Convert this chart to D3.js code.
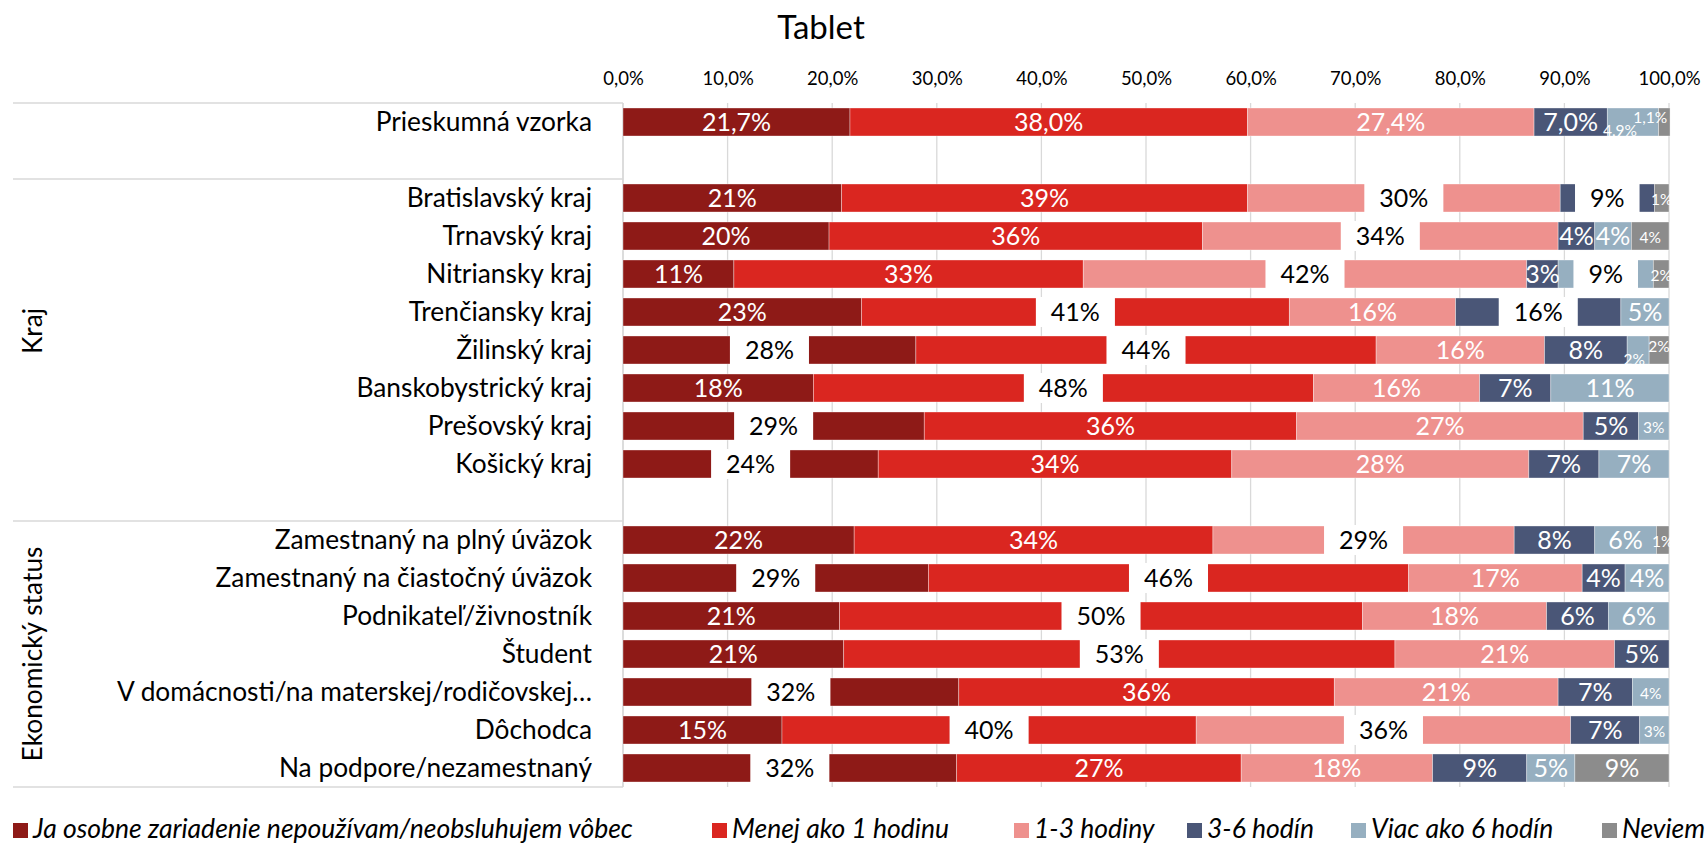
<!DOCTYPE html>
<html>
<head>
<meta charset="utf-8">
<script src="https://cdn.jsdelivr.net/npm/d3@7"></script>
<style>
  body { margin: 0; background: #fff; }
  svg text { font-family: Lato, "Open Sans", sans-serif; }
</style>
</head>
<body>
<div id="chart"></div>
<script>
// rows of the chart, empty strings are the spacer rows
var categories = [
  'Prieskumná vzorka', '',
  'Bratislavský kraj', 'Trnavský kraj', 'Nitriansky kraj', 'Trenčiansky kraj',
  'Žilinský kraj', 'Banskobystrický kraj', 'Prešovský kraj', 'Košický kraj', '',
  'Zamestnaný na plný úväzok', 'Zamestnaný na čiastočný úväzok', 'Podnikateľ/živnostník',
  'Študent', 'V domácnosti/na materskej/rodičovskej…', 'Dôchodca', 'Na podpore/nezamestnaný'
];

var seriesNames = [
  'Ja osobne zariadenie nepoužívam/neobsluhujem vôbec',
  'Menej ako 1 hodinu', '1-3 hodiny', '3-6 hodín', 'Viac ako 6 hodín', 'Neviem'
];

// shares in %, one array per series
var nepouzivam = [21.7, null, 20.9, 19.7, 10.6, 22.8, 28.0, 18.2, 28.8, 24.4, null, 22.1, 29.2, 20.7, 21.1, 32.1, 15.2, 31.9];
var menej1     = [38.0, null, 38.8, 35.7, 33.4, 40.9, 44.0, 47.8, 35.6, 33.8, null, 34.3, 45.9, 50.0, 52.7, 35.9, 39.6, 27.2];
var hodiny13   = [27.4, null, 29.9, 34.0, 42.4, 15.9, 16.1, 15.9, 27.4, 28.4, null, 28.8, 16.6, 17.6, 21.0, 21.4, 35.8, 18.3];
var hodin36    = [7.0,  null, 9.0,  3.5,  3.0,  15.8, 7.9,  6.8,  5.3,  6.7,  null, 7.7,  4.1,  5.9,  5.2,  7.1,  6.6,  9.0];
var viac6      = [4.9,  null, 0,    3.5,  9.1,  4.6,  2.1,  11.3, 2.9,  6.7,  null, 5.9,  4.2,  5.8,  0,    3.5,  2.8,  4.6];
var neviem     = [1.1,  null, 1.4,  3.6,  1.5,  0,    1.9,  0,    0,    0,    null, 1.2,  0,    0,    0,    0,    0,    9.0];

var xTicks = [0, 10, 20, 30, 40, 50, 60, 70, 80, 90, 100];

var groups = [
  { name: 'Kraj', from: 2, to: 9 },
  { name: 'Ekonomický status', from: 11, to: 17 }
];

var colors = ['#8E1A17', '#DA2620', '#EE918E', '#4A5677', '#96AFC0', '#8C8C8C'];

// label styling taken over from the original (row|series)
var boxed = ['2|2', '2|3', '3|2', '4|2', '4|4', '5|1', '5|3', '6|0', '6|1', '7|1', '8|0', '9|0',
             '11|2', '12|0', '12|1', '13|1', '14|1', '15|0', '16|1', '16|2', '17|0'];
var small = ['0|4', '0|5', '2|5', '3|5', '4|5', '6|4', '6|5', '8|4', '11|5', '15|4', '16|4'];
var nudge = { '0|4': [-13, 7], '0|5': [-14, -6], '6|4': [-4, 8], '6|5': [0, -5] };

var width = 1706, height = 844;

var svg = d3.select('#chart')
  .append('svg')
    .attr('width', width)
    .attr('height', height);

var allSeries = [nepouzivam, menej1, hodiny13, hodin36, viac6, neviem];
var rows = categories.map(function(c, i) {
  var r = { index: i, name: c };
  seriesNames.forEach(function(s, j) { r[s] = allSeries[j][i] || 0; });
  r.empty = nepouzivam[i] === null;
  return r;
});

var stacked = d3.stack().keys(seriesNames)(rows);

var x = d3.scaleLinear().domain([0, 100]).range([623, 1669]);
var y = d3.scaleBand()
  .domain(d3.range(categories.length))
  .range([103, 787])
  .paddingInner(0.263)
  .paddingOuter(0.1315);
var gap = (y.step() - y.bandwidth()) / 2;

// title
svg.append('text')
  .attr('x', 821)
  .attr('y', 39)
  .attr('text-anchor', 'middle')
  .attr('font-size', 33)
  .attr('fill', '#000')
  .text('Tablet');

// gridlines
svg.append('g')
  .selectAll('line')
  .data(xTicks)
  .enter()
    .append('line')
      .attr('x1', function(d) { return x(d); })
      .attr('x2', function(d) { return x(d); })
      .attr('y1', 103)
      .attr('y2', 787)
      .attr('stroke', '#d9d9d9')
      .attr('stroke-width', 1.3);

// top axis labels
svg.append('g')
  .attr('transform', 'translate(0,82)')
  .call(d3.axisTop(x).tickValues(xTicks).tickSize(0)
    .tickFormat(function(d) { return d.toFixed(1).replace('.', ',') + '%'; }))
  .call(function(g) { g.select('.domain').remove(); })
  .selectAll('text')
    .attr('font-size', 18.5)
    .attr('fill', '#000')
    .attr('dy', '0.35em')
    .attr('font-family', 'Lato, sans-serif');

// left category box lines
var sep = [103, y(2) - gap, y(11) - gap, 787];
svg.append('g')
  .selectAll('line')
  .data(sep)
  .enter()
    .append('line')
      .attr('x1', 13)
      .attr('x2', 623)
      .attr('y1', function(d) { return d; })
      .attr('y2', function(d) { return d; })
      .attr('stroke', '#d9d9d9')
      .attr('stroke-width', 1.5);

svg.append('line')
  .attr('x1', 623).attr('x2', 623)
  .attr('y1', 103).attr('y2', 787)
  .attr('stroke', '#d9d9d9')
  .attr('stroke-width', 1.5);

// category labels
svg.append('g')
  .selectAll('text')
  .data(rows.filter(function(r) { return r.name; }))
  .enter()
    .append('text')
      .attr('x', 592)
      .attr('y', function(d) { return y(d.index) + y.bandwidth() / 2; })
      .attr('dy', '0.35em')
      .attr('text-anchor', 'end')
      .attr('font-size', 26.3)
      .attr('fill', '#000')
      .text(function(d) { return d.name; });

// group labels, centred between the separator lines
svg.append('g')
  .selectAll('text')
  .data(groups)
  .enter()
    .append('text')
      .attr('transform', function(d) {
        var cy = (y(d.from) - gap + y(d.to) + y.bandwidth() + gap) / 2;
        return 'translate(33,' + cy + ') rotate(-90)';
      })
      .attr('dy', '0.35em')
      .attr('text-anchor', 'middle')
      .attr('font-size', 26.3)
      .attr('fill', '#000')
      .text(function(d) { return d.name; });

// bars
var layer = svg.append('g')
  .selectAll('g')
  .data(stacked)
  .enter()
    .append('g')
      .attr('fill', function(d, i) { return colors[i]; });

layer.selectAll('rect')
  .data(function(d) { return d.filter(function(p) { return !p.data.empty && p[1] > p[0]; }); })
  .enter()
    .append('rect')
      .attr('x', function(d) { return x(d[0]); })
      .attr('y', function(d) { return y(d.data.index); })
      .attr('width', function(d) { return x(d[1]) - x(d[0]); })
      .attr('height', y.bandwidth())
      .attr('stroke', '#fff')
      .attr('stroke-opacity', 0.5)
      .attr('stroke-width', 0.7);

// data labels
var labels = [];
stacked.forEach(function(s, j) {
  s.forEach(function(p) {
    if (p.data.empty || p[1] - p[0] <= 0) return;
    labels.push({ row: p.data.index, series: j, v0: p[0], v1: p[1], value: p[1] - p[0] });
  });
});

var labelLayer = svg.append('g');
labels.forEach(function(d) {
  var key = d.row + '|' + d.series;
  var off = nudge[key] || [0, 0];
  var isSmall = small.indexOf(key) >= 0;
  var isBoxed = boxed.indexOf(key) >= 0;
  var cx = x((d.v0 + d.v1) / 2) + off[0];
  var cy = y(d.row) + y.bandwidth() / 2 + off[1] + (isSmall ? 2 : 0);
  var txt = d.row === 0
    ? d.value.toFixed(1).replace('.', ',') + '%'
    : Math.round(d.value) + '%';
  var g = labelLayer.append('g');
  var t = g.append('text')
    .attr('x', cx)
    .attr('y', cy)
    .attr('dy', '0.35em')
    .attr('text-anchor', 'middle')
    .attr('font-size', isSmall ? 15.5 : 25)
    .attr('fill', isBoxed ? '#000' : '#fff')
    .text(txt);
  if (isBoxed) {
    var w = t.node().getComputedTextLength() + 30;
    g.insert('rect', 'text')
      .attr('x', cx - w / 2)
      .attr('y', y(d.row) - 1)
      .attr('width', w)
      .attr('height', y.bandwidth() + 2)
      .attr('fill', '#fff');
  }
});

// legend
var legendX = [13, 712, 1014, 1187, 1351, 1602];
var legend = svg.append('g')
  .selectAll('g')
  .data(seriesNames)
  .enter()
    .append('g')
      .attr('transform', function(d, i) { return 'translate(' + legendX[i] + ',823)'; });

legend.append('rect')
  .attr('width', 15)
  .attr('height', 15)
  .attr('fill', function(d, i) { return colors[i]; });

legend.append('text')
  .attr('x', 20)
  .attr('y', 15)
  .attr('font-size', 26.5)
  .attr('font-style', 'italic')
  .attr('fill', '#000')
  .text(function(d) { return d; });
</script>
</body>
</html>
